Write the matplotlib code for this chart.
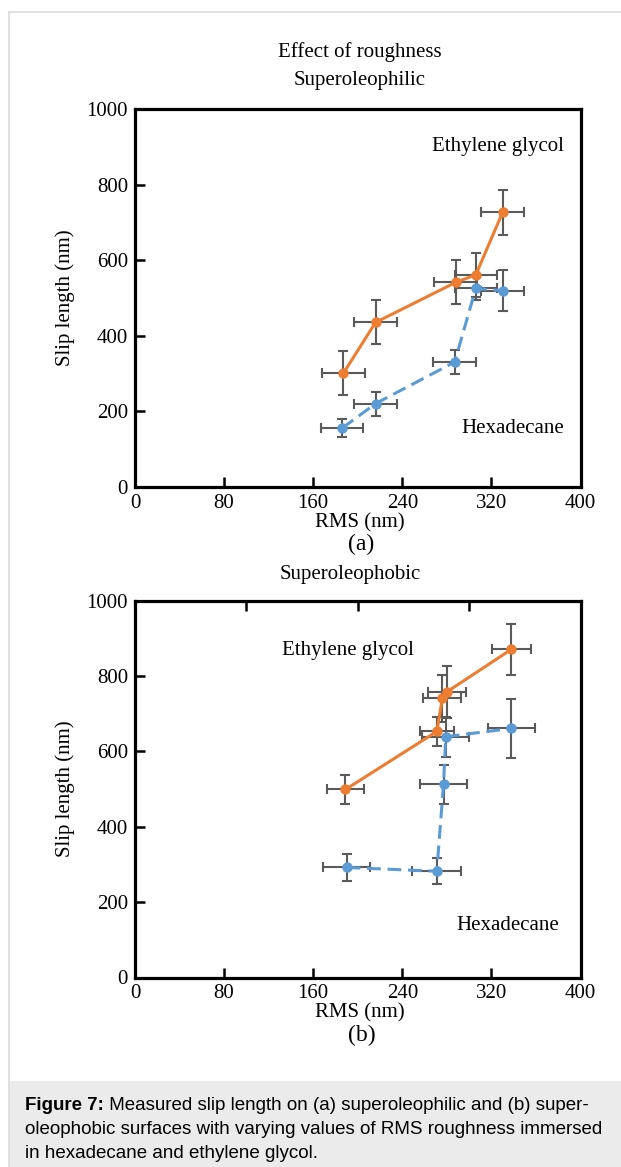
import matplotlib
matplotlib.use("Agg")
import matplotlib.pyplot as plt
from matplotlib.patches import Rectangle
from matplotlib.lines import Line2D

# ---------------- data ----------------
# (a) Superoleophilic
hexa_x_a = [186, 216, 287, 306, 330]
hexa_y_a = [155, 220, 330, 525, 519]
hexa_xerr_a = [19, 19, 19, 19, 19]
hexa_yerr_a = [23, 32, 32, 31, 55]

eg_x_a = [187, 216, 288, 306, 330]
eg_y_a = [300, 435, 541, 561, 726]
eg_xerr_a = [19.5, 19.5, 19.5, 19, 19.5]
eg_yerr_a = [58, 58, 58, 59, 59]

# (b) Superoleophobic
hexa_x_b = [190, 271, 277, 279, 338]
hexa_y_b = [292, 282, 513, 639, 661]
hexa_xerr_b = [21, 22, 21.5, 21, 21]
hexa_yerr_b = [35, 34, 52, 53, 79]

eg_x_b = [189, 271, 276, 280, 338]
eg_y_b = [499, 653, 741, 758, 871]
eg_xerr_b = [17, 15, 17, 17, 17.5]
eg_yerr_b = [38, 39, 62, 70, 68]

x_ticks = [0, 80, 160, 240, 320, 400]
y_ticks = [0, 200, 400, 600, 800, 1000]
top_ticks_b = [100, 200, 300]

caption_bold = "Figure 7:"
caption_l1 = " Measured slip length on (a) superoleophilic and (b) super-"
caption_l2 = "oleophobic surfaces with varying values of RMS roughness immersed"
caption_l3 = "in hexadecane and ethylene glycol."

# ---------------- style ----------------
W, H = 621, 1167
SERIF = ['Liberation Serif', 'DejaVu Serif']
ORANGE = '#ED7D31'
BLUE = '#5B9BD5'
ERR = '#5a5a5a'
FS = 15

fig = plt.figure(figsize=(W / 100, H / 100), dpi=100)
fig.patch.set_facecolor('white')


def fx(px):
    return px / W


def fy(py):
    return 1 - py / H


# frame and caption box
fig.add_artist(Line2D([fx(8.5), 1], [fy(12), fy(12)], color='#dcdcdc', lw=1.2))
fig.add_artist(Line2D([fx(8.5), fx(8.5)], [fy(12), 0], color='#dcdcdc', lw=1.2))
fig.add_artist(Rectangle((fx(9), 0), 1 - fx(9), fy(1081), facecolor='#ebebeb',
                         edgecolor='none', transform=fig.transFigure))


def make_axes(top_px, bot_px):
    left, right = 135, 580.5
    ax = fig.add_axes([fx(left), fy(bot_px), (right - left) / W, (bot_px - top_px) / H])
    ax.set_xlim(0, 400)
    ax.set_ylim(0, 1000)
    for s in ax.spines.values():
        s.set_linewidth(2.3)
        s.set_color('black')
    ax.set_xticks(x_ticks)
    ax.set_yticks(y_ticks)
    ax.tick_params(direction='in', length=7, width=1.8, labelsize=FS, pad=5)
    ax.tick_params(axis='x', pad=5)
    for lab in ax.get_xticklabels() + ax.get_yticklabels():
        lab.set_family(SERIF)
    ax.set_ylabel('Slip length (nm)', fontsize=15, family=SERIF, labelpad=8)
    return ax


def draw(ax, hx, hy, hxe, hye, ex, ey, exe, eye):
    ax.errorbar(hx, hy, xerr=hxe, yerr=hye, fmt='none', ecolor=ERR, elinewidth=1.5,
                capsize=3.5, capthick=1.5, zorder=2)
    ax.errorbar(ex, ey, xerr=exe, yerr=eye, fmt='none', ecolor=ERR, elinewidth=1.5,
                capsize=3.5, capthick=1.5, zorder=2)
    ax.plot(hx, hy, color=BLUE, lw=2.2, ls=(0, (4.5, 2.2)), marker='o', ms=6.5, zorder=3)
    ax.plot(ex, ey, color=ORANGE, lw=2.2, ls='-', marker='o', ms=6.5, zorder=4)


# ---- panel (a) ----
axa = make_axes(109, 486.7)
draw(axa, hexa_x_a, hexa_y_a, hexa_xerr_a, hexa_yerr_a, eg_x_a, eg_y_a, eg_xerr_a, eg_yerr_a)
axa.text(385, 900, 'Ethylene glycol', ha='right', va='center', fontsize=FS, family=SERIF)
axa.text(385, 153, 'Hexadecane', ha='right', va='center', fontsize=FS, family=SERIF)

fig.text(fx(360), fy(52), 'Effect of roughness', ha='center', va='center', fontsize=FS, family=SERIF)
fig.text(fx(360), fy(80), 'Superoleophilic', ha='center', va='center', fontsize=FS, family=SERIF)
fig.text(fx(360), fy(523), 'RMS (nm)', ha='center', va='center', fontsize=FS, family=SERIF)
fig.text(fx(361), fy(544), '(a)', ha='center', va='center', fontsize=17, family=SERIF)

# ---- panel (b) ----
axb = make_axes(600.7, 977.5)
draw(axb, hexa_x_b, hexa_y_b, hexa_xerr_b, hexa_yerr_b, eg_x_b, eg_y_b, eg_xerr_b, eg_yerr_b)
axb.text(132, 869, 'Ethylene glycol', ha='left', va='center', fontsize=FS, family=SERIF)
axb.text(381, 139, 'Hexadecane', ha='right', va='center', fontsize=FS, family=SERIF)
axt = axb.twiny()
axt.set_xlim(0, 400)
axt.set_xticks(top_ticks_b)
axt.set_xticklabels([])
axt.tick_params(direction='in', length=7, width=1.8)
for s in axt.spines.values():
    s.set_visible(False)
axt.xaxis.get_major_ticks()[1].tick2line.set_color('#2F5597')

fig.text(fx(350), fy(575), 'Superoleophobic', ha='center', va='center', fontsize=FS, family=SERIF)
fig.text(fx(360), fy(1013), 'RMS (nm)', ha='center', va='center', fontsize=FS, family=SERIF)
fig.text(fx(362), fy(1035), '(b)', ha='center', va='center', fontsize=17, family=SERIF)

# ---- caption ----
CAP = ['Liberation Sans', 'DejaVu Sans']
CFS = 13.5
renderer = fig.canvas.get_renderer()
tb = fig.text(fx(25), fy(1105), caption_bold, ha='left', va='center', fontsize=CFS,
              family=CAP, fontweight='bold')
bb = tb.get_window_extent(renderer=renderer)
fig.text(bb.x1 / W, fy(1105), caption_l1, ha='left', va='center', fontsize=CFS, family=CAP)
fig.text(fx(25), fy(1130), caption_l2, ha='left', va='center', fontsize=CFS, family=CAP)
fig.text(fx(25), fy(1154), caption_l3, ha='left', va='center', fontsize=CFS, family=CAP)

fig.savefig('out.png', dpi=100)
